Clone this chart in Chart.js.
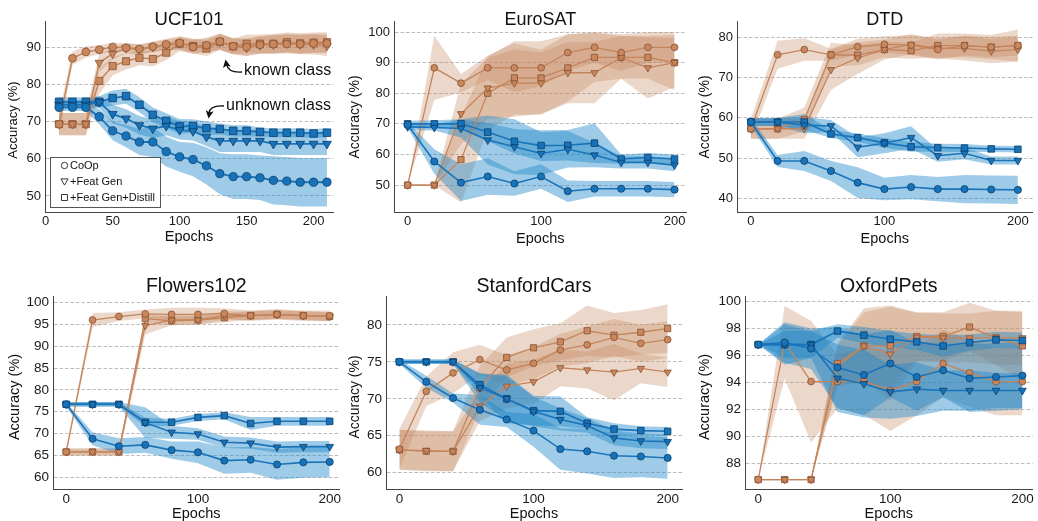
<!DOCTYPE html>
<html lang="en">
<head>
<meta charset="UTF-8">
<title>Known / unknown class accuracy vs epochs</title>
<script src="https://cdn.jsdelivr.net/npm/chart.js"></script>
<style>
    body {
        margin: 0;
        background: #fff;
        width: 1038px;
        height: 521px;
        position: relative;
        overflow: hidden;
    }
    canvas {
        position: absolute;
    }
</style>
</head>
<body>
<canvas id="c0"></canvas>
<canvas id="c1"></canvas>
<canvas id="c2"></canvas>
<canvas id="c3"></canvas>
<canvas id="c4"></canvas>
<canvas id="c5"></canvas>
<script>
// ---- data ----
const methods = ['CoOp', '+Feat Gen', '+Feat Gen+Distill'];
const ucfEpochs = [10, 20, 30, 40, 50, 60, 70, 80, 90, 100, 110, 120, 130, 140, 150, 160, 170, 180, 190, 200, 210];
const epochs = [0, 20, 40, 60, 80, 100, 120, 140, 160, 180, 200];

const ucfXTicks = [0, 50, 100, 150, 200];
const xTicks = [0, 100, 200];
const ucfYTicks = [50, 60, 70, 80, 90];
const euroYTicks = [50, 60, 70, 80, 90, 100];
const dtdYTicks = [40, 50, 60, 70, 80];
const flowersYTicks = [60, 65, 70, 75, 80, 85, 90, 95, 100];
const carsYTicks = [60, 65, 70, 75, 80];
const petsYTicks = [88, 90, 92, 94, 96, 98, 100];

// UCF101
const ucfKnownCoOp = [69.3, 87.0, 88.7, 89.3, 90.0, 89.8, 89.5, 90.1, 90.7, 91.1, 90.0, 90.5, 91.5, 90.2, 90.0, 90.6, 90.8, 90.8, 90.8, 91.0, 91.0];
const ucfKnownCoOpErr = [3.0, 1.8, 1.5, 1.2, 1.2, 1.2, 1.2, 1.3, 1.5, 1.8, 1.8, 2.0, 2.2, 2.2, 2.4, 2.4, 2.5, 2.5, 2.6, 2.6, 2.6];
const ucfKnownGen = [69.3, 69.3, 69.3, 85.8, 88.2, 89.7, 89.3, 90.0, 90.5, 91.0, 90.3, 90.5, 91.3, 90.3, 89.8, 90.5, 90.7, 91.0, 90.7, 90.7, 90.3];
const ucfKnownGenErr = [3.0, 3.0, 3.0, 2.5, 1.6, 1.4, 1.4, 1.4, 1.5, 1.6, 1.8, 1.8, 2.0, 2.0, 2.2, 2.3, 2.4, 2.5, 2.6, 2.7, 2.7];
const ucfKnownDistill = [69.3, 69.3, 69.3, 80.9, 84.9, 86.2, 87.1, 86.8, 88.5, 90.9, 90.3, 89.6, 91.4, 90.2, 90.9, 90.9, 90.9, 91.3, 91.0, 91.2, 91.3];
const ucfKnownDistillErr = [3.0, 3.0, 3.0, 3.5, 2.5, 2.2, 2.0, 2.0, 2.0, 2.0, 2.0, 2.0, 2.2, 2.2, 2.4, 2.5, 2.6, 2.6, 2.7, 2.7, 2.7];
const ucfUnknownCoOp = [73.8, 73.8, 73.8, 71.3, 67.5, 66.1, 64.5, 64.5, 61.9, 60.5, 59.8, 58.1, 56.0, 55.2, 55.2, 54.9, 54.2, 54.0, 53.7, 53.7, 53.7];
const ucfUnknownCoOpErr = [1.0, 1.0, 1.0, 2.0, 2.5, 3.0, 3.5, 4.0, 4.0, 4.0, 4.5, 5.0, 5.5, 6.0, 6.0, 6.0, 6.5, 6.5, 6.5, 6.5, 6.5];
const ucfUnknownGen = [74.5, 74.5, 74.5, 75.2, 72.0, 70.8, 69.0, 68.1, 68.8, 67.7, 67.4, 65.9, 64.8, 64.8, 64.8, 64.8, 64.0, 64.0, 64.0, 64.0, 64.0];
const ucfUnknownGenErr = [1.0, 1.0, 1.0, 1.5, 2.5, 2.5, 2.5, 2.5, 2.5, 2.5, 2.5, 2.5, 3.0, 3.0, 3.0, 3.0, 3.0, 3.0, 3.0, 3.0, 3.0];
const ucfUnknownDistill = [75.3, 75.3, 75.3, 75.3, 76.3, 76.8, 74.5, 71.8, 70.2, 68.7, 68.8, 68.2, 68.0, 67.5, 67.5, 67.2, 67.0, 67.0, 67.0, 66.8, 67.0];
const ucfUnknownDistillErr = [1.2, 1.2, 1.2, 1.5, 2.0, 2.0, 2.0, 2.0, 2.0, 2.0, 1.8, 1.8, 1.5, 1.5, 1.5, 1.2, 1.2, 1.2, 1.2, 1.2, 1.2];

// EuroSAT
const euroKnownCoOp = [50, 88.3, 83.3, 88.3, 88.3, 88.3, 93.3, 95.0, 93.3, 95.0, 95.0];
const euroKnownCoOpErr = [0, 10.5, 3, 4, 8, 6, 6, 5, 6, 5, 5];
const euroKnownGen = [50, 50, 73.3, 81.7, 83.3, 83.3, 86.7, 86.7, 91.7, 88.3, 90.0];
const euroKnownGenErr = [0, 0, 10, 10, 11, 10, 10, 10, 7, 10, 8];
const euroKnownDistill = [50, 50, 58.3, 80.0, 85.0, 85.0, 88.3, 91.7, 91.7, 91.7, 90.0];
const euroKnownDistillErr = [0, 0, 14, 12, 12, 12, 11, 8, 7, 7, 9];
const euroUnknownCoOp = [69.7, 57.7, 50.8, 52.8, 50.5, 52.8, 48.0, 48.8, 48.8, 48.8, 48.5];
const euroUnknownCoOpErr = [1, 4, 6, 6, 4, 4, 3.5, 2.5, 2.5, 2.5, 2.5];
const euroUnknownGen = [69.0, 68.8, 68.5, 64.7, 62.5, 60.3, 61.7, 59.8, 57.4, 57.4, 56.5];
const euroUnknownGenErr = [1, 1, 3, 8, 9, 7, 6, 4, 2, 2, 2];
const euroUnknownDistill = [70.0, 70.0, 70.0, 67.3, 64.3, 62.9, 63.0, 63.7, 58.5, 59.0, 58.5];
const euroUnknownDistillErr = [1, 1.2, 1.5, 3, 4, 5, 5, 6.5, 1.5, 1.5, 1.5];

// DTD
const dtdKnownCoOp = [57.3, 75.7, 77.0, 75.7, 77.7, 78.3, 78.1, 77.0, 78.0, 77.6, 78.0];
const dtdKnownCoOpErr = [2.5, 3.5, 2.8, 1.5, 2.0, 2.0, 2.5, 2.5, 2.5, 2.5, 2.5];
const dtdKnownGen = [57.3, 57.3, 57.3, 72.0, 74.9, 77.0, 78.3, 77.3, 77.3, 76.6, 77.0];
const dtdKnownGenErr = [2.5, 2.5, 2.5, 5, 4, 2.5, 2.5, 2.5, 3, 3, 3];
const dtdKnownDistill = [57.3, 57.3, 59.6, 75.7, 75.6, 77.0, 76.7, 78.0, 78.0, 77.6, 78.0];
const dtdKnownDistillErr = [2.5, 2.5, 3, 3, 2.5, 2, 2, 3, 3, 3, 4];
const dtdUnknownCoOp = [59.0, 49.3, 49.3, 46.8, 43.9, 42.3, 42.8, 42.3, 42.3, 42.2, 42.1];
const dtdUnknownCoOpErr = [1, 1.5, 2.5, 2.5, 3.8, 2.8, 3, 3, 3.5, 3.5, 3.5];
const dtdUnknownGen = [59.0, 59.0, 58.2, 58.0, 52.7, 53.7, 55.1, 50.6, 51.2, 49.4, 49.4];
const dtdUnknownGenErr = [1, 1, 2, 1.5, 2.5, 2.5, 2.8, 1.5, 1.5, 1, 1];
const dtdUnknownDistill = [59.0, 59.0, 59.0, 56.0, 55.1, 53.8, 52.8, 52.6, 52.5, 52.3, 52.2];
const dtdUnknownDistillErr = [1, 1, 2, 1, 1, 1.2, 1.2, 1, 1, 0.8, 0.8];

// Flowers102
const flowersKnownCoOp = [65.8, 96.0, 96.8, 97.4, 97.3, 97.3, 97.5, 97.0, 97.3, 97.0, 97.0];
const flowersKnownCoOpErr = [0.8, 1.6, 1.0, 1.0, 1.5, 1.5, 1.2, 1.2, 1.2, 1.2, 1.2];
const flowersKnownGen = [65.8, 65.8, 65.8, 94.7, 96.0, 96.0, 97.0, 97.0, 97.2, 97.0, 96.8];
const flowersKnownGenErr = [0.8, 0.8, 0.8, 2.0, 1.2, 1.0, 1.0, 1.0, 1.0, 1.0, 1.0];
const flowersKnownDistill = [65.8, 65.8, 65.8, 96.3, 95.8, 96.0, 96.5, 97.0, 97.3, 97.0, 96.8];
const flowersKnownDistillErr = [0.8, 0.8, 0.8, 1.0, 1.0, 1.0, 1.0, 1.0, 1.0, 1.0, 1.0];
const flowersUnknownCoOp = [76.7, 68.8, 67.1, 67.4, 66.2, 65.7, 63.8, 64.0, 62.9, 63.4, 63.5];
const flowersUnknownCoOpErr = [0.5, 1.5, 1.8, 1.8, 2.0, 2.5, 3.0, 3.0, 3.5, 3.5, 3.5];
const flowersUnknownGen = [76.7, 76.7, 76.7, 72.5, 70.3, 69.9, 68.0, 67.8, 66.9, 67.0, 67.0];
const flowersUnknownGenErr = [0.5, 0.5, 0.5, 3.5, 1.5, 1.3, 1.3, 1.3, 1.3, 1.3, 1.3];
const flowersUnknownDistill = [76.7, 76.7, 76.7, 72.6, 72.6, 73.7, 74.1, 72.3, 72.8, 72.8, 72.8];
const flowersUnknownDistillErr = [0.5, 0.5, 0.5, 1.0, 0.8, 0.8, 0.8, 1.5, 1.0, 1.0, 1.0];

// StanfordCars
const carsKnownCoOp = [63.2, 71.0, 73.5, 75.3, 73.9, 74.8, 76.6, 77.3, 78.3, 77.5, 78.0];
const carsKnownCoOpErr = [2.7, 2.0, 2.8, 2.0, 2.0, 2.2, 2.2, 2.5, 2.5, 2.5, 2.5];
const carsKnownGen = [63.1, 63.0, 62.9, 69.0, 71.7, 72.3, 74.2, 73.9, 73.6, 74.1, 73.6];
const carsKnownGenErr = [2.7, 2.7, 2.7, 2.0, 3.0, 3.0, 2.5, 2.5, 3.8, 2.0, 2.0];
const carsKnownDistill = [63.1, 62.9, 62.9, 71.5, 75.6, 76.9, 77.7, 79.2, 78.6, 79.0, 79.5];
const carsKnownDistillErr = [2.7, 2.7, 2.7, 3.0, 2.7, 2.5, 2.5, 3.4, 3.0, 3.0, 3.3];
const carsUnknownCoOp = [75.0, 72.3, 70.1, 68.5, 67.2, 65.7, 63.2, 62.9, 62.3, 62.2, 62.0];
const carsUnknownCoOpErr = [0.3, 0.8, 0.6, 2.0, 1.0, 2.2, 2.8, 3.0, 3.0, 2.8, 2.8];
const carsUnknownGen = [75.0, 75.0, 75.0, 71.5, 70.0, 68.3, 67.2, 66.4, 64.7, 64.3, 64.2];
const carsUnknownGenErr = [0.3, 0.3, 0.3, 2.0, 3.0, 2.0, 1.5, 1.0, 1.0, 1.0, 1.0];
const carsUnknownDistill = [75.0, 75.0, 75.0, 71.9, 70.0, 68.4, 68.3, 66.7, 65.9, 65.7, 65.6];
const carsUnknownDistillErr = [0.3, 0.3, 0.3, 1.5, 3.3, 2.0, 2.0, 0.8, 0.8, 0.6, 0.6];

// OxfordPets
const petsKnownCoOp = [86.8, 96.96, 94.06, 94.06, 94.1, 93.4, 94.06, 95.4, 94.7, 94.06, 94.06];
const petsKnownCoOpErr = [0, 2.7, 4.5, 2.0, 2.5, 3.0, 2.5, 2.5, 2.5, 2.5, 2.5];
const petsKnownGen = [86.8, 86.8, 86.8, 95.2, 96.7, 96.1, 97.35, 97.3, 97.3, 97.3, 97.3];
const petsKnownGenErr = [0, 0, 0, 1.5, 2.5, 3.5, 1.8, 1.8, 1.8, 2.0, 2.0];
const petsKnownDistill = [86.8, 86.8, 86.8, 95.4, 96.7, 96.7, 97.4, 97.4, 98.1, 97.3, 96.7];
const petsKnownDistillErr = [0, 0, 0, 1.5, 2.8, 3.0, 1.8, 1.8, 1.8, 2.0, 2.5];
const petsUnknownCoOp = [96.8, 96.95, 96.5, 95.1, 94.55, 95.4, 94.4, 94.9, 94.3, 94.4, 94.5];
const petsUnknownCoOpErr = [0, 1.5, 1.5, 3.0, 3.0, 2.5, 2.5, 2.0, 2.5, 2.5, 2.5];
const petsUnknownGen = [96.8, 96.8, 96.8, 94.3, 93.9, 93.3, 93.5, 93.4, 93.4, 93.4, 93.4];
const petsUnknownGenErr = [0, 1.0, 1.0, 2.5, 2.5, 2.0, 2.0, 1.5, 1.5, 1.3, 1.3];
const petsUnknownDistill = [96.8, 96.8, 96.8, 97.8, 97.5, 97.2, 97.0, 96.7, 96.95, 97.15, 97.1];
const petsUnknownDistillErr = [0, 1.5, 1.0, 0.5, 0.6, 0.6, 0.6, 0.8, 0.6, 0.6, 0.6];

// ---- look ----
const FONT = '"Liberation Sans", Arial, Helvetica, sans-serif';
Chart.defaults.font.family = FONT;
const BROWN = { line: '#c4855c', fill: '#c8875c', edge: '#8a5232', band: 'rgba(196,134,94,0.32)' };
const BLUE = { line: '#1a74ba', fill: '#1673b9', edge: '#0c3d6c', band: 'rgba(30,135,200,0.43)' };
const MARKERS = [
    { style: 'circle', r: 3.4, rot: 0 },
    { style: 'triangle', r: 4.2, rot: 180 },
    { style: 'rect', r: 4.4, rot: 0 }
];

// box = canvas [left, top, width, height], area = plot area [left, top, right, bottom] in page px
const panels = [
    { id: 'c0', name: 'UCF101', box: [0, 0, 346, 258], area: [45, 21, 333, 212],
      xs: ucfEpochs, xMin: -0.5, xMax: 214.5, xTicks: ucfXTicks, yMin: 45.7, yMax: 97, yTicks: ucfYTicks,
      known: [[ucfKnownCoOp, ucfKnownCoOpErr], [ucfKnownGen, ucfKnownGenErr], [ucfKnownDistill, ucfKnownDistillErr]],
      unknown: [[ucfUnknownCoOp, ucfUnknownCoOpErr], [ucfUnknownGen, ucfUnknownGenErr], [ucfUnknownDistill, ucfUnknownDistillErr]],
      titleY: 25, titleSize: 18.5, tickSize: 13, yTitleSize: 13, markScale: 1.15,
      yTitleX: 13, yTitleY: 120, xTitleY: 237, legend: true, notes: true },
    { id: 'c1', name: 'EuroSAT', box: [346, 0, 346, 258], area: [394, 21, 688, 212],
      xs: epochs, xMin: -10.2, xMax: 209, xTicks: xTicks, yMin: 41.2, yMax: 103.6, yTicks: euroYTicks,
      known: [[euroKnownCoOp, euroKnownCoOpErr], [euroKnownGen, euroKnownGenErr], [euroKnownDistill, euroKnownDistillErr]],
      unknown: [[euroUnknownCoOp, euroUnknownCoOpErr], [euroUnknownGen, euroUnknownGenErr], [euroUnknownDistill, euroUnknownDistillErr]],
      titleY: 25, titleSize: 18, tickSize: 13, yTitleSize: 14, markScale: 1,
      yTitleX: 355, yTitleY: 117, xTitleY: 239 },
    { id: 'c2', name: 'DTD', box: [692, 0, 346, 258], area: [737, 21, 1033, 212],
      xs: epochs, xMin: -10.4, xMax: 211, xTicks: xTicks, yMin: 36.6, yMax: 84.1, yTicks: dtdYTicks,
      known: [[dtdKnownCoOp, dtdKnownCoOpErr], [dtdKnownGen, dtdKnownGenErr], [dtdKnownDistill, dtdKnownDistillErr]],
      unknown: [[dtdUnknownCoOp, dtdUnknownCoOpErr], [dtdUnknownGen, dtdUnknownGenErr], [dtdUnknownDistill, dtdUnknownDistillErr]],
      titleY: 25, titleSize: 18, tickSize: 13, yTitleSize: 14, markScale: 1,
      yTitleX: 705, yTitleY: 117, xTitleY: 239 },
    { id: 'c3', name: 'Flowers102', box: [0, 260, 345, 261], area: [53, 296, 345, 489],
      xs: epochs, xMin: -10, xMax: 207.5, xTicks: xTicks, yMin: 57.3, yMax: 101.5, yTicks: flowersYTicks,
      known: [[flowersKnownCoOp, flowersKnownCoOpErr], [flowersKnownGen, flowersKnownGenErr], [flowersKnownDistill, flowersKnownDistillErr]],
      unknown: [[flowersUnknownCoOp, flowersUnknownCoOpErr], [flowersUnknownGen, flowersUnknownGenErr], [flowersUnknownDistill, flowersUnknownDistillErr]],
      titleY: 292, titleSize: 19.5, tickSize: 13.5, yTitleSize: 14.5, markScale: 1,
      yTitleX: 15, yTitleY: 397, xTitleY: 514 },
    { id: 'c4', name: 'StanfordCars', box: [346, 260, 346, 261], area: [386, 296, 682, 489],
      xs: epochs, xMin: -10, xMax: 210.7, xTicks: xTicks, yMin: 57.8, yMax: 83.9, yTicks: carsYTicks,
      known: [[carsKnownCoOp, carsKnownCoOpErr], [carsKnownGen, carsKnownGenErr], [carsKnownDistill, carsKnownDistillErr]],
      unknown: [[carsUnknownCoOp, carsUnknownCoOpErr], [carsUnknownGen, carsUnknownGenErr], [carsUnknownDistill, carsUnknownDistillErr]],
      titleY: 292, titleSize: 19.5, tickSize: 13.5, yTitleSize: 14, markScale: 1,
      yTitleX: 355, yTitleY: 397, xTitleY: 514 },
    { id: 'c5', name: 'OxfordPets', box: [692, 260, 346, 261], area: [745, 296, 1037, 489],
      xs: epochs, xMin: -10, xMax: 207.7, xTicks: xTicks, yMin: 86.1, yMax: 100.4, yTicks: petsYTicks,
      known: [[petsKnownCoOp, petsKnownCoOpErr], [petsKnownGen, petsKnownGenErr], [petsKnownDistill, petsKnownDistillErr]],
      unknown: [[petsUnknownCoOp, petsUnknownCoOpErr], [petsUnknownGen, petsUnknownGenErr], [petsUnknownDistill, petsUnknownDistillErr]],
      titleY: 292, titleSize: 19.5, tickSize: 13.5, yTitleSize: 14.5, markScale: 1,
      yTitleX: 705, yTitleY: 397, xTitleY: 514 }
];

function pts(xs, ys) {
    return xs.map((x, i) => ({ x: x, y: ys[i] }));
}

function buildDatasets(p) {
    const ds = [];
    const groups = [[p.known, BROWN, 3, 1], [p.unknown, BLUE, 2, 0]];
    groups.forEach(([list, col, bandOrder]) => {
        list.forEach(([mean, err]) => {
            ds.push({ data: pts(p.xs, mean.map((m, i) => m + err[i])), fill: '+1', backgroundColor: col.band,
                borderColor: 'rgba(0,0,0,0)', borderWidth: 0, pointRadius: 0, order: bandOrder });
            ds.push({ data: pts(p.xs, mean.map((m, i) => m - err[i])), fill: false,
                borderColor: 'rgba(0,0,0,0)', borderWidth: 0, pointRadius: 0, order: bandOrder });
        });
    });
    groups.forEach(([list, col, , lineOrder]) => {
        list.forEach(([mean], k) => {
            const m = MARKERS[k];
            const blue = col === BLUE;
            ds.push({ label: methods[k], data: pts(p.xs, mean), fill: false,
                borderColor: col.line, borderWidth: (blue ? 1.6 : 1.3) * p.markScale,
                pointStyle: m.style, pointRadius: m.r * p.markScale * (blue ? 1.05 : 1), pointRotation: m.rot,
                pointBackgroundColor: col.fill, pointBorderColor: col.edge, pointBorderWidth: 0.8,
                order: lineOrder });
        });
    });
    return ds;
}

function hollowMarker(ctx, style, x, y) {
    ctx.beginPath();
    if (style === 'circle') {
        ctx.arc(x, y, 3.2, 0, Math.PI * 2);
    } else if (style === 'triangle') {
        ctx.moveTo(x - 3.6, y - 2.6);
        ctx.lineTo(x + 3.6, y - 2.6);
        ctx.lineTo(x, y + 3.6);
        ctx.closePath();
    } else {
        ctx.rect(x - 3, y - 3, 6, 6);
    }
    ctx.stroke();
}

function arrowHead(ctx, x, y, angle) {
    ctx.save();
    ctx.translate(x, y);
    ctx.rotate(angle);
    ctx.beginPath();
    ctx.moveTo(0, 0);
    ctx.lineTo(-8, -4);
    ctx.lineTo(-6, 0);
    ctx.lineTo(-8, 4);
    ctx.closePath();
    ctx.fill();
    ctx.restore();
}

function makeDecor(p) {
    return {
        id: 'decor',
        afterDraw(chart) {
            const ctx = chart.ctx;
            const a = chart.chartArea;
            const ox = p.box[0], oy = p.box[1];
            const cx = (a.left + a.right) / 2;
            ctx.save();
            ctx.fillStyle = '#111';
            ctx.textAlign = 'center';
            ctx.textBaseline = 'alphabetic';
            ctx.font = p.titleSize + 'px ' + FONT;
            ctx.fillText(p.name, cx, p.titleY - oy);
            ctx.textBaseline = 'middle';
            ctx.font = '14.5px ' + FONT;
            ctx.fillText('Epochs', cx, p.xTitleY - oy);
            ctx.save();
            ctx.translate(p.yTitleX - ox, p.yTitleY - oy);
            ctx.rotate(-Math.PI / 2);
            ctx.font = p.yTitleSize + 'px ' + FONT;
            ctx.fillText('Accuracy (%)', 0, 0);
            ctx.restore();

            if (p.legend) {
                ctx.fillStyle = '#fff';
                ctx.strokeStyle = '#555';
                ctx.lineWidth = 1;
                ctx.fillRect(50, 157, 110, 50);
                ctx.strokeRect(50.5, 157.5, 110, 50);
                ctx.fillStyle = '#111';
                ctx.strokeStyle = '#222';
                ctx.lineWidth = 0.9;
                ctx.font = '11px ' + FONT;
                ctx.textAlign = 'left';
                const rows = [165.5, 181.5, 197.5];
                methods.forEach((name, k) => {
                    hollowMarker(ctx, MARKERS[k].style, 64.5, rows[k]);
                    ctx.fillText(name, 70, rows[k] + 0.5);
                });
            }

            if (p.notes) {
                ctx.fillStyle = '#111';
                ctx.strokeStyle = '#111';
                ctx.lineWidth = 1.4;
                ctx.font = '16px ' + FONT;
                ctx.textAlign = 'left';
                ctx.fillText('known class', 244, 71);
                ctx.fillText('unknown class', 226, 106);
                ctx.beginPath();
                ctx.moveTo(242, 72);
                ctx.quadraticCurveTo(228, 73, 226.5, 64);
                ctx.stroke();
                arrowHead(ctx, 225.5, 59.5, -1.75);
                ctx.beginPath();
                ctx.moveTo(224, 106);
                ctx.quadraticCurveTo(210, 105, 209, 113);
                ctx.stroke();
                arrowHead(ctx, 208.5, 118.5, 1.72);
            }
            ctx.restore();
        }
    };
}

panels.forEach(p => {
    const cv = document.getElementById(p.id);
    const [bl, bt, bw, bh] = p.box;
    const [al, at, ar, ab] = p.area;
    cv.width = bw;
    cv.height = bh;
    cv.style.left = bl + 'px';
    cv.style.top = bt + 'px';
    cv.style.width = bw + 'px';
    cv.style.height = bh + 'px';

    new Chart(cv, {
        type: 'line',
        data: { datasets: buildDatasets(p) },
        options: {
            responsive: false,
            animation: false,
            events: [],
            layout: { padding: { left: 0, top: at - bt, right: bl + bw - ar, bottom: 0 } },
            elements: { line: { tension: 0 } },
            plugins: { legend: { display: false }, tooltip: { enabled: false }, title: { display: false } },
            scales: {
                x: {
                    type: 'linear',
                    min: p.xMin,
                    max: p.xMax,
                    afterBuildTicks: s => { s.ticks = p.xTicks.map(v => ({ value: v })); },
                    afterFit: s => { s.height = bt + bh - ab; s.paddingLeft = 0; s.paddingRight = 0; },
                    grid: { display: false, drawTicks: false },
                    border: { display: true, color: '#444', width: 1 },
                    ticks: { color: '#1a1a1a', font: { size: p.tickSize }, padding: 2, maxRotation: 0, autoSkip: false }
                },
                y: {
                    type: 'linear',
                    min: p.yMin,
                    max: p.yMax,
                    afterBuildTicks: s => { s.ticks = p.yTicks.map(v => ({ value: v })); },
                    afterFit: s => { s.width = al - bl; s.paddingTop = 0; s.paddingBottom = 0; },
                    grid: { display: true, color: '#ababab', lineWidth: 0.8, drawTicks: false },
                    border: { display: true, color: '#444', width: 1, dash: [3.5, 2] },
                    ticks: { color: '#1a1a1a', font: { size: p.tickSize }, padding: 4, autoSkip: false }
                }
            }
        },
        plugins: [makeDecor(p)]
    });
});
</script>
</body>
</html>
